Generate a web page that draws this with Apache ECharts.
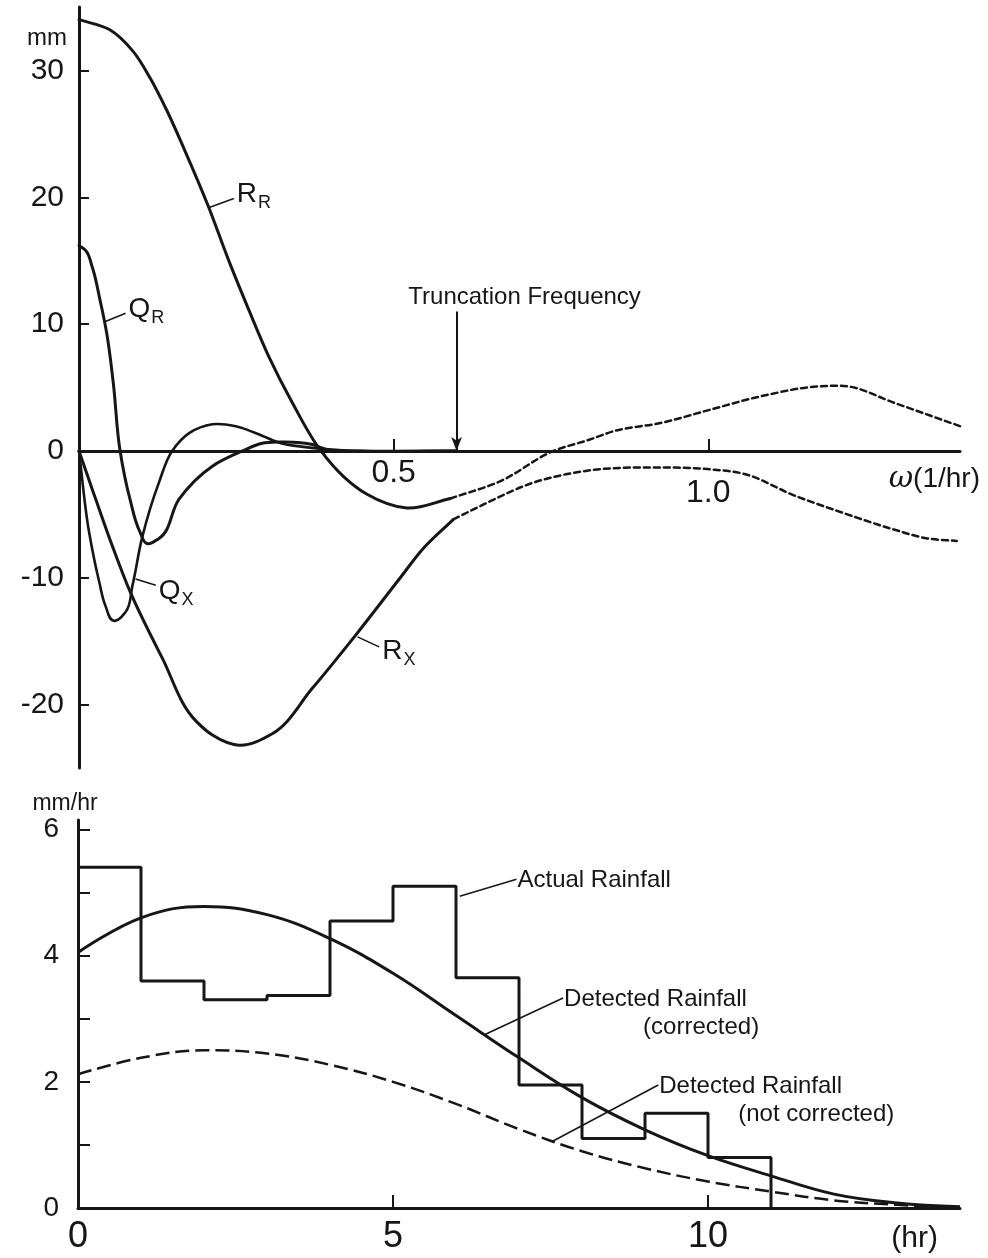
<!DOCTYPE html>
<html><head><meta charset="utf-8">
<script src="https://cdn.jsdelivr.net/npm/echarts@6/dist/echarts.min.js"></script>
<style>html,body{margin:0;padding:0;background:#fff;}#c{width:988px;height:1258px;}</style>
</head><body><div id="c"></div>
<script>
// ---------- top panel: spectra, ω (1/hr) vs mm ----------
const omegaTickValues = [0.5, 1.0];
const mmLabelValues = [-20, -10, 0, 10, 20, 30];
const mmTickValues = [-20, -10, 10, 20, 30];

const rrSolid = [[0,34.0],[0.049,33.2],[0.086,31.5],[0.113,29.4],[0.140,26.8],[0.168,23.7],[0.205,19.35],[0.238,15.0],[0.270,11.1],[0.302,7.4],[0.339,3.8],[0.383,0.1],[0.420,-2.0],[0.457,-3.4],[0.521,-4.5],[0.590,-3.75]];
const rrDashed = [[0.590,-3.75],[0.669,-2.4],[0.754,0],[0.812,0.9],[0.849,1.55],[0.924,2.2],[1.003,3.25],[1.083,4.3],[1.178,5.1],[1.220,5.1],[1.295,3.8],[1.400,1.95]];
const rxSolid = [[0,0],[0.0265,-3.8],[0.053,-7.5],[0.0795,-10.9],[0.132,-16.3],[0.186,-21.3],[0.212,-22.4],[0.254,-23.2],[0.307,-22.3],[0.371,-18.7],[0.440,-14.5],[0.509,-10.1],[0.547,-7.7],[0.595,-5.4]];
const rxDashed = [[0.595,-5.4],[0.648,-4.1],[0.722,-2.5],[0.802,-1.6],[0.924,-1.3],[1.003,-1.45],[1.056,-1.8],[1.136,-3.5],[1.215,-4.9],[1.295,-6.2],[1.348,-6.9],[1.395,-7.1]];
const qrData = [[0,16.2],[0.0106,15.8],[0.021,14.5],[0.0334,11.9],[0.044,9.3],[0.0545,5.35],[0.065,0.1],[0.081,-3.8],[0.097,-6.4],[0.108,-7.3],[0.127,-6.9],[0.159,-3.8],[0.212,-1.2],[0.260,0],[0.291,0.6],[0.318,0.7],[0.371,0.5],[0.394,0.1],[0.450,0],[0.600,0]];
const qxData = [[0,0],[0.016,-6.4],[0.032,-10.3],[0.042,-12.2],[0.056,-13.4],[0.074,-12.7],[0.085,-10.6],[0.100,-6.9],[0.127,-2.5],[0.148,0],[0.175,1.4],[0.212,2.1],[0.249,1.95],[0.291,1.2],[0.318,0.65],[0.360,0.3],[0.420,0.05],[0.600,0]];
const truncationOmega = 0.6;

// ---------- bottom panel: rainfall, hr vs mm/hr ----------
const hourLabelValues = [0, 5, 10];
const hourTickValues = [5, 10];
const rateLabelValues = [0, 2, 4, 6];
const rateTickValues = [1, 2, 3, 4, 5, 6];
const rainHours = [0,1,2,3,4,5,6,7,8,9,10,11];
const actualRain = [5.4,3.6,3.3,3.37,4.55,5.1,3.65,1.95,1.1,1.5,0.8,0];
const curveHours = [0,1,2,3,4,5,6,7,8,9,10,11,12,13,14];
const correctedRain = [4.05,4.6,4.78,4.65,4.27,3.72,3.05,2.38,1.75,1.24,0.83,0.51,0.22,0.08,0.02];
const uncorrectedRain = [2.12,2.38,2.5,2.45,2.27,2.0,1.65,1.25,0.9,0.63,0.42,0.26,0.12,0.05,0.0];

// ---------- annotations (anchored in data coordinates) ----------
const curveLabels = [
  {main:'R', sub:'R', from:[0.207,19.2], to:[0.246,19.9], dy:-4},
  {main:'Q', sub:'R', from:[0.042,10.2], to:[0.074,10.85], dy:-4},
  {main:'Q', sub:'X', from:[0.090,-10.1], to:[0.122,-10.6], dy:6},
  {main:'R', sub:'X', from:[0.4425,-14.66], to:[0.477,-15.45], dy:4}
];
const rainNotes = [
  {lines:['Actual Rainfall'], from:[6.06,4.94], to:[6.96,5.21]},
  {lines:['Detected Rainfall','(corrected)'], from:[6.46,2.75], to:[7.70,3.33]},
  {lines:['Detected Rainfall','(not corrected)'], from:[7.52,1.05], to:[9.21,1.95]}
];

const INK = '#161616';
const FONT = 'Liberation Sans';

const chart = echarts.init(document.getElementById('c'), null, {renderer:'canvas'});

// smooth curve through pixel points (tangents weighted by neighbouring chord lengths)
function smoothPath(px) {
  const n = px.length;
  const tan = px.map(function(p, i){
    const a = px[Math.max(0, i-1)], b = px[Math.min(n-1, i+1)];
    let tx, ty;
    if (i === 0 || i === n-1) { tx = b[0]-a[0]; ty = b[1]-a[1]; }
    else {
      const d0x = p[0]-a[0], d0y = p[1]-a[1], d1x = b[0]-p[0], d1y = b[1]-p[1];
      const l0 = Math.hypot(d0x, d0y) || 1, l1 = Math.hypot(d1x, d1y) || 1;
      tx = (d0x/l0)*l1 + (d1x/l1)*l0; ty = (d0y/l0)*l1 + (d1y/l1)*l0;
    }
    const l = Math.hypot(tx, ty) || 1;
    return [tx/l, ty/l];
  });
  let d = 'M' + px[0][0] + ' ' + px[0][1];
  for (let i = 0; i < n-1; i++) {
    const p = px[i], q = px[i+1];
    const L = Math.hypot(q[0]-p[0], q[1]-p[1]) / 3;
    d += ' C' + (p[0]+tan[i][0]*L) + ' ' + (p[1]+tan[i][1]*L) + ' ' +
         (q[0]-tan[i+1][0]*L) + ' ' + (q[1]-tan[i+1][1]*L) + ' ' + q[0] + ' ' + q[1];
  }
  return d;
}
function curveSeries(data, gi, width, dash, extra) {
  return Object.assign({
    type:'custom', xAxisIndex:gi, yAxisIndex:gi, data:[data[0]], silent:true, clip:false,
    renderItem:function(params, api){
      const px = data.map(function(p){ return api.coord(p); });
      return {
        type:'path', shape:{pathData:smoothPath(px)},
        style:{fill:'none', stroke:INK, lineWidth:width, lineDash:dash || null, lineCap:'round', lineJoin:'round'}
      };
    }
  }, extra || {});
}
function lineSeries(data, gi, extra) {
  return Object.assign({
    type:'line', xAxisIndex:gi, yAxisIndex:gi, data:data,
    showSymbol:false, symbol:'none', smooth:0.4, silent:true,
    lineStyle:{color:INK, width:3}
  }, extra || {});
}

const option = {
  animation:false,
  backgroundColor:'#ffffff',
  grid:[
    {left:79, right:28, top:7, bottom:490},
    {left:78, right:28, top:820, bottom:50}
  ],
  xAxis:[
    {
      gridIndex:0, type:'value', min:0, max:1.4, position:'bottom', offset:0,
      axisLine:{onZero:false, lineStyle:{color:INK, width:3}},
      axisTick:{inside:true, length:12, customValues:omegaTickValues, lineStyle:{color:INK, width:2}},
      axisLabel:{
        customValues:omegaTickValues, margin:6, color:INK, fontFamily:FONT, fontSize:32,
        formatter:function(v){ return v === 1 ? '{low|1.0}' : '{std|' + v.toFixed(1) + '}'; },
        rich:{
          low:{padding:[20,0,0,0], fontSize:32, fontFamily:FONT, color:INK},
          std:{fontSize:32, fontFamily:FONT, color:INK}
        }
      },
      splitLine:{show:false},
      name:'{w|ω}(1/hr)', nameLocation:'end', nameGap:20,
      nameTextStyle:{
        align:'right', verticalAlign:'top', padding:[13,0,0,0],
        fontSize:28, fontFamily:FONT, color:INK,
        rich:{w:{fontStyle:'italic', fontSize:30, fontFamily:'DejaVu Serif', color:INK}}
      }
    },
    {
      gridIndex:1, type:'value', min:0, max:14,
      axisLine:{onZero:true, lineStyle:{color:INK, width:3}},
      axisTick:{inside:true, length:13, customValues:hourTickValues, lineStyle:{color:INK, width:2}},
      axisLabel:{customValues:hourLabelValues, margin:11, color:INK, fontFamily:FONT, fontSize:36},
      splitLine:{show:false},
      name:'(hr)', nameLocation:'end', nameGap:-22,
      nameTextStyle:{align:'right', verticalAlign:'top', padding:[16,0,0,0], fontSize:30, fontFamily:FONT, color:INK}
    }
  ],
  yAxis:[
    {
      gridIndex:0, type:'value', min:-25, max:35,
      axisLine:{onZero:false, lineStyle:{color:INK, width:3}},
      axisTick:{inside:true, length:10, customValues:mmTickValues, lineStyle:{color:INK, width:2}},
      axisLabel:{customValues:mmLabelValues, margin:15, color:INK, fontFamily:FONT, fontSize:30},
      splitLine:{show:false},
      name:'mm', nameLocation:'end', nameGap:-31,
      nameTextStyle:{align:'right', verticalAlign:'middle', padding:[0,12,0,0], fontSize:24, fontFamily:FONT, color:INK}
    },
    {
      gridIndex:1, type:'value', min:0, max:6.15,
      axisLine:{onZero:false, lineStyle:{color:INK, width:3}},
      axisTick:{inside:true, length:12, customValues:rateTickValues, lineStyle:{color:INK, width:2}},
      axisLabel:{customValues:rateLabelValues, margin:19, color:INK, fontFamily:FONT, fontSize:28},
      splitLine:{show:false},
      name:'mm/hr', nameLocation:'end', nameGap:9,
      nameTextStyle:{align:'center', verticalAlign:'middle', padding:[0,26,0,0], fontSize:23, fontFamily:FONT, color:INK}
    }
  ],
  series:[
    curveSeries(rrSolid, 0, 3),
    curveSeries(rrDashed, 0, 2.5, [6,4]),
    curveSeries(rxSolid, 0, 3),
    curveSeries(rxDashed, 0, 2.5, [6,4]),
    curveSeries(qrData, 0, 3),
    curveSeries(qxData, 0, 2.6),
    {
      type:'line', xAxisIndex:0, yAxisIndex:0, data:[], silent:true,
      markLine:{
        silent:true, symbol:['none','arrow'], symbolSize:[8,14],
        label:{show:false},
        lineStyle:{color:INK, width:2, type:'solid'},
        data:[[{coord:[truncationOmega, 11]}, {coord:[truncationOmega, 0]}]]
      }
    },
    lineSeries(rainHours.map(function(h,i){ return [h, actualRain[i]]; }), 1, {step:'end', smooth:false}),
    lineSeries(curveHours.map(function(h,i){ return [h, correctedRain[i]]; }), 1),
    lineSeries(curveHours.map(function(h,i){ return [h, uncorrectedRain[i]]; }), 1, {lineStyle:{color:INK, width:2.5, type:[14,6]}})
  ]
};
chart.setOption(option);

// move the top ω axis (line, ticks and labels) onto the zero line of its y axis
const zeroPx = chart.convertToPixel({yAxisIndex:0}, 0);
const bottomPx = chart.convertToPixel({yAxisIndex:0}, -25);
chart.setOption({xAxis:[{offset: zeroPx - bottomPx}, {}]});

// ---------- annotation graphics ----------
const els = [];
function txt(x, y, text, size, extra) {
  return Object.assign({
    type:'text', x:x, y:y, silent:true, z:10,
    style:{text:text, fill:INK, fontSize:size, fontFamily:FONT,
      align:'left', verticalAlign:'middle', textAlign:'left', textVerticalAlign:'middle'}
  }, extra || {});
}
function seg(a, b, w) {
  return {type:'line', silent:true, z:10, shape:{x1:a[0], y1:a[1], x2:b[0], y2:b[1]}, style:{stroke:INK, lineWidth:w || 1.6}};
}
curveLabels.forEach(function(l){
  const a = chart.convertToPixel({gridIndex:0}, l.from);
  const b = chart.convertToPixel({gridIndex:0}, l.to);
  els.push(seg(a, b));
  els.push({
    type:'text', x:b[0] + 3, y:b[1] + l.dy, silent:true, z:10,
    style:{
      text:'{m|' + l.main + '}{s|' + l.sub + '}',
      fill:INK, fontFamily:FONT, fontSize:28,
      align:'left', verticalAlign:'middle', textAlign:'left', textVerticalAlign:'middle',
      rich:{
        m:{fontSize:28, fontFamily:FONT, fill:INK},
        s:{fontSize:18, fontFamily:FONT, fill:INK, padding:[18,0,0,1]}
      }
    }
  });
});
rainNotes.forEach(function(n){
  const a = chart.convertToPixel({gridIndex:1}, n.from);
  const b = chart.convertToPixel({gridIndex:1}, n.to);
  els.push(seg(a, b));
  els.push(txt(b[0] + 1, b[1] + 1, n.lines[0], 24));
  if (n.lines[1]) els.push(txt(b[0] + 80, b[1] + 29, n.lines[1], 24));
});
const arrowTop = chart.convertToPixel({gridIndex:0}, [truncationOmega, 11]);
els.push(txt(arrowTop[0] + 68, arrowTop[1] - 14, 'Truncation Frequency', 24,
  {style:{text:'Truncation Frequency', fill:INK, fontSize:24, fontFamily:FONT,
    align:'center', verticalAlign:'middle', textAlign:'center', textVerticalAlign:'middle'}}));
chart.setOption({graphic:{elements:els}});
</script>
</body></html>
